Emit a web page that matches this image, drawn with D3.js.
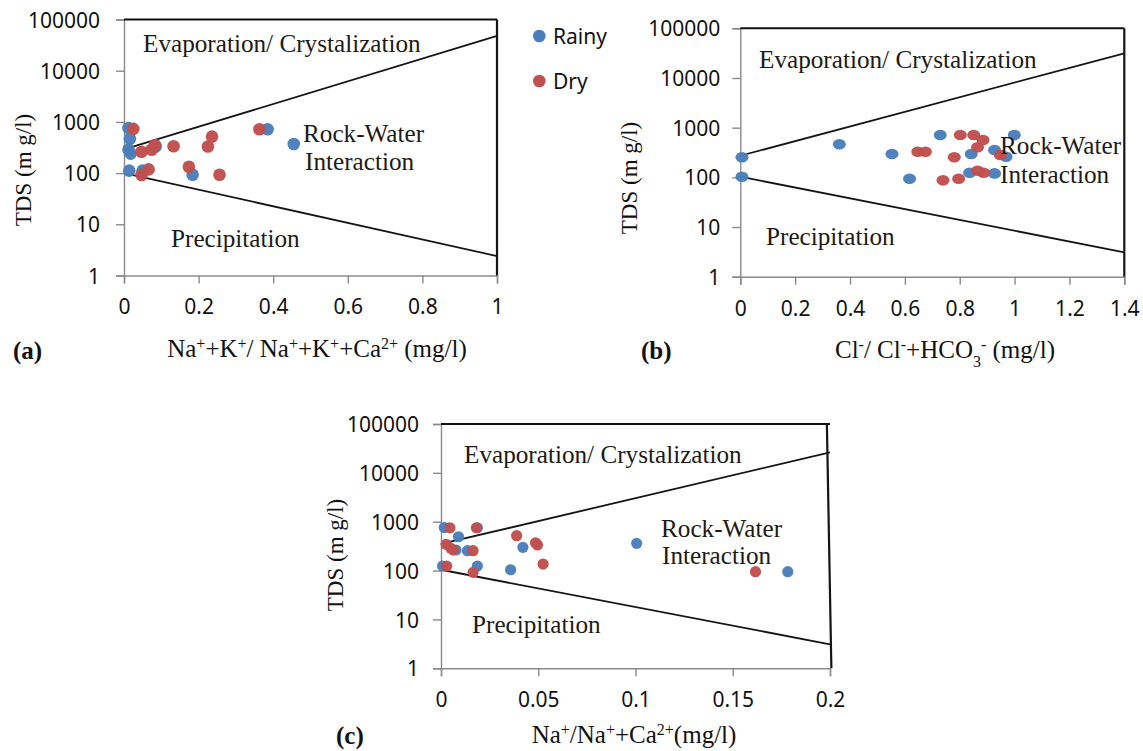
<!DOCTYPE html>
<html><head><meta charset="utf-8">
<script src="https://cdn.jsdelivr.net/npm/d3@7"></script>
<style>body{margin:0;background:#fff} svg{display:block}</style>
</head><body>
<svg id="chart" width="1143" height="751"></svg>
<script>
// ---------- DATA ----------
const seriesNames = ["Rainy", "Dry"];
const yTicks = [1, 10, 100, 1000, 10000, 100000];
const xTicksA = [0, 0.2, 0.4, 0.6, 0.8, 1];
const xTicksB = [0, 0.2, 0.4, 0.6, 0.8, 1, 1.2, 1.4];
const xTicksC = [0, 0.05, 0.1, 0.15, 0.2];

// Panel (a): Na+K / (Na+K+Ca) vs TDS
const aRainy = [[0.012,760],[0.016,470],[0.012,285],[0.018,240],[0.014,112],[0.05,112],[0.085,330],[0.184,93],[0.385,720],[0.455,370]];
const aDry = [[0.025,730],[0.047,262],[0.074,285],[0.083,355],[0.133,335],[0.225,330],[0.236,516],[0.174,133],[0.256,93],[0.363,720],[0.047,92],[0.066,118]];
const aUpper = [[0,290],[1,48000]];
const aLower = [[0,100],[1,2.4]];
const aBorder = [[1,1],[1,100000]];

// Panel (b): Cl / (Cl+HCO3) vs TDS
const bRainy = [[0.006,253],[0.006,103],[0.361,462],[0.553,295],[0.617,94],[0.729,711],[0.836,124],[0.842,295],[0.927,355],[0.927,120],[0.969,260],[0.999,711]];
const bDry = [[0.647,328],[0.675,328],[0.739,87],[0.780,253],[0.796,94],[0.802,711],[0.851,711],[0.865,403],[0.885,565],[0.865,136],[0.887,124],[0.948,282]];
const bUpper = [[0,272],[1.4,31400]];
const bLower = [[0,103],[1.4,3.1]];
const bBorder = [[1.4,1],[1.4,100000]];

// Panel (c): Na / (Na+Ca) vs TDS
const cRainy = [[0.0017,760],[0.0187,753],[0.009,493],[0.0077,264],[0.0136,255],[0.0421,299],[0.0008,124],[0.0187,124],[0.0358,104],[0.1006,361],[0.1783,95]];
const cDry = [[0.0046,753],[0.0182,753],[0.0026,345],[0.0051,285],[0.0063,264],[0.0165,255],[0.0389,517],[0.0486,370],[0.0496,335],[0.0525,136],[0.0029,124],[0.0165,92],[0.1617,95]];
const cUpper = [[0,350],[0.2,26300]];
const cLower = [[0,104],[0.2,3.1]];
const cBorder = [[0.1984,100000],[0.2007,1]];

// ---------- LAYOUT ----------
const colors = {Rainy: "#4a7ebb", Dry: "#c0504d"};
const svg = d3.select("#chart");
const tickFont = "'Noto Sans', 'Open Sans', sans-serif";
const serif = "'Liberation Serif', 'Times New Roman', serif";

const panels = [
  {id:"a", xr:[124,497], yr:[275.5,19.5], xd:[0,1], xt:xTicksA, rainy:aRainy, dry:aDry, up:aUpper, lo:aLower, border:aBorder,
   ypad:16, rx:6.3, ry:6.3,
   evap:[143,52], rock:[303,142], inter:[305,170], prec:[171,247],
   ytitle:[23,170], xtitle:[317,357], label:[13,359],
   xtitleParts:[["Na",0],["+",1],["+K",0],["+",1],["/ Na",0],["+",1],["+K",0],["+",1],["+Ca",0],["2+",1],[" (mg/l)",0]]},
  {id:"b", xr:[740.3,1124.3], yr:[276.7,28.3], xd:[0,1.4], xt:xTicksB, rainy:bRainy, dry:bDry, up:bUpper, lo:bLower, border:bBorder,
   ypad:12, rx:6.5, ry:5.3,
   evap:[759,68], rock:[1000,154], inter:[1000,183], prec:[766,245],
   ytitle:[629,178], xtitle:[945,358], label:[641,359],
   xtitleParts:[["Cl",0],["-",1],["/ Cl",0],["-",1],["+HCO",0],["3",2],["-",1],[" (mg/l)",0]]},
  {id:"c", xr:[441,830], yr:[668.3,424], xd:[0,0.2], xt:xTicksC, rainy:cRainy, dry:cDry, up:cUpper, lo:cLower, border:cBorder,
   ypad:14, rx:5.6, ry:5.6,
   evap:[464,463], rock:[661,537], inter:[662,564], prec:[472,633],
   ytitle:[335,555], xtitle:[634,743], label:[336,744],
   xtitleParts:[["Na",0],["+",1],["/Na",0],["+",1],["+Ca",0],["2+",1],["(mg/l)",0]]}
];

panels.forEach(p => {
  const x = d3.scaleLinear().domain(p.xd).range(p.xr);
  const y = d3.scaleLog().domain([1,100000]).range(p.yr);
  const g = svg.append("g");

  // axes
  const yAxis = d3.axisLeft(y).tickValues(yTicks).tickFormat(d3.format("d")).tickSize(8).tickPadding(p.ypad);
  const xAxis = d3.axisBottom(x).tickValues(p.xt).tickFormat(d3.format("~g")).tickSize(8).tickPadding(16);
  const ya = g.append("g").attr("transform", `translate(${p.xr[0]},0)`).call(yAxis);
  const xa = g.append("g").attr("transform", `translate(0,${p.yr[0]})`).call(xAxis);
  [ya, xa].forEach(a => {
    a.select(".domain").attr("stroke", "#8a8a8a").attr("stroke-width", 1.4);
    a.selectAll(".tick line").attr("stroke", "#8a8a8a").attr("stroke-width", 1.4);
    a.selectAll(".tick text").attr("fill", "#111").style("font-family", tickFont).style("font-size", "21px");
  });
  ya.selectAll(".tick text").attr("dy", "0.36em");

  // top border
  g.append("line").attr("x1", p.xr[0]).attr("x2", p.xr[1]).attr("y1", p.yr[1]).attr("y2", p.yr[1])
    .attr("stroke", "#111").attr("stroke-width", 2);

  const line = d3.line().x(d => x(d[0])).y(d => y(d[1]));
  [p.border, p.up, p.lo].forEach((ld, i) => {
    g.append("path").attr("d", line(ld)).attr("fill", "none")
      .attr("stroke", "#151515").attr("stroke-width", i === 0 ? 2.2 : 1.8);
  });

  // points
  [["Rainy", p.rainy], ["Dry", p.dry]].forEach(([name, data]) => {
    g.append("g").selectAll("ellipse").data(data).join("ellipse")
      .attr("cx", d => x(d[0])).attr("cy", d => y(d[1]))
      .attr("rx", p.rx).attr("ry", p.ry)
      .attr("fill", colors[name]).attr("opacity", 0.97);
  });

  // region texts
  const regTxt = (pos, t) => g.append("text").attr("x", pos[0]).attr("y", pos[1]).text(t)
      .style("font-family", serif).style("font-size", "25.2px").attr("fill", "#1d1a16");
  regTxt(p.evap, "Evaporation/ Crystalization");
  regTxt(p.rock, "Rock-Water");
  regTxt(p.inter, "Interaction");
  regTxt(p.prec, "Precipitation");

  // y title
  g.append("text").attr("transform", `translate(${p.ytitle[0]},${p.ytitle[1]}) rotate(-90)`)
    .attr("text-anchor", "middle").attr("dominant-baseline", "central")
    .style("font-family", serif).style("font-size", "23px").attr("fill", "#111")
    .text("TDS (m g/l)");

  // x title with super/subscripts
  const xt = g.append("text").attr("x", p.xtitle[0]).attr("y", p.xtitle[1]).attr("text-anchor", "middle")
    .style("font-family", serif).style("font-size", "25px").attr("fill", "#111");
  p.xtitleParts.forEach(([s, k]) => {
    const ts = xt.append("tspan").text(s);
    if (k === 1) ts.attr("baseline-shift", "super").style("font-size", "16px");
    if (k === 2) ts.attr("baseline-shift", "sub").style("font-size", "16px");
  });

  // panel label
  g.append("text").attr("x", p.label[0]).attr("y", p.label[1]).text(`(${p.id})`)
    .style("font-family", serif).style("font-size", "25px").style("font-weight", "bold").attr("fill", "#111");
});

// legend
const legend = svg.append("g");
const legendY = [36, 81];
seriesNames.forEach((n, i) => {
  legend.append("circle").attr("cx", 539.3).attr("cy", legendY[i]).attr("r", 6.3).attr("fill", colors[n]);
  legend.append("text").attr("x", 553).attr("y", legendY[i]).attr("dominant-baseline", "central")
    .style("font-family", tickFont).style("font-size", "21px").attr("fill", "#111").text(n);
});
</script>
</body></html>
